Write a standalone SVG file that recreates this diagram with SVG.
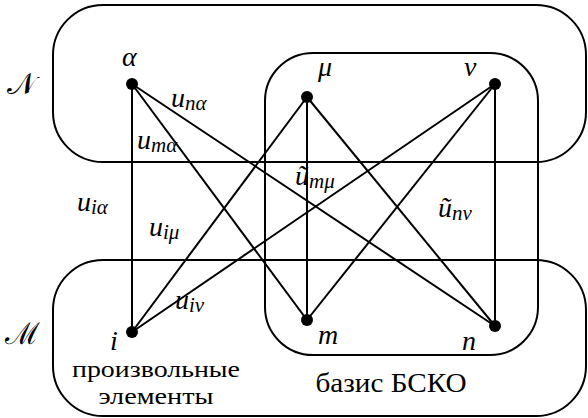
<svg xmlns="http://www.w3.org/2000/svg" width="588" height="418" viewBox="0 0 588 418">
<style>
.box{fill:none;stroke:#000;stroke-width:2}
.edge{stroke:#000;stroke-width:2}
.node{fill:#000}
text{font-family:'Liberation Serif',serif;font-style:italic;font-size:28px;fill:#000}
tspan.s{font-size:21px}
text.r{font-style:normal;font-size:27px}
text.r2{font-style:normal;font-size:23px}
text.sc{font-family:'DejaVu Serif',serif;font-style:normal;font-size:30px}
</style>
<rect width="588" height="418" fill="#fff"/>
<g id="set-N"><rect class="box" x="53" y="5" width="533" height="157" rx="50" ry="50"/><text class="sc" x="7" y="94">𝒩</text></g>
<g id="set-M"><rect class="box" x="53" y="260" width="533" height="156" rx="50" ry="50"/><text class="sc" x="5" y="344">ℳ</text></g>
<g id="basis"><rect class="box" x="265" y="53" width="273" height="302" rx="48" ry="48"/><text class="r" x="391" y="392" text-anchor="middle" textLength="151" lengthAdjust="spacingAndGlyphs">базис БСКО</text></g>
<g id="connectors">
<line class="edge" x1="132" y1="84" x2="132" y2="332"/>
<line class="edge" x1="132" y1="84" x2="307" y2="320"/>
<line class="edge" x1="132" y1="84" x2="495" y2="326"/>
<line class="edge" x1="307" y1="97" x2="132" y2="332"/>
<line class="edge" x1="307" y1="97" x2="307" y2="320"/>
<line class="edge" x1="307" y1="97" x2="495" y2="326"/>
<line class="edge" x1="495" y1="84" x2="132" y2="332"/>
<line class="edge" x1="495" y1="84" x2="307" y2="320"/>
<line class="edge" x1="495" y1="84" x2="495" y2="326"/>
<text x="171" y="107">u<tspan class="s" dy="3">nα</tspan></text>
<text x="137" y="149">u<tspan class="s" dy="3">mα</tspan></text>
<text x="77" y="211">u<tspan class="s" dy="3">iα</tspan></text>
<text x="149" y="236">u<tspan class="s" dy="3">iμ</tspan></text>
<text x="175" y="309">u<tspan class="s" dy="3">iν</tspan></text>
<text x="295" y="185">ũ<tspan class="s" dy="3">mμ</tspan></text>
<text x="438" y="217">ũ<tspan class="s" dy="3">nν</tspan></text>
</g>
<g id="node-alpha"><circle class="node" cx="132" cy="84" r="6"/><text x="122" y="66">α</text></g>
<g id="node-mu"><circle class="node" cx="307" cy="97" r="6"/><text x="318" y="76">μ</text></g>
<g id="node-nu"><circle class="node" cx="495" cy="84" r="6"/><text x="464" y="76">ν</text></g>
<g id="node-i"><circle class="node" cx="132" cy="332" r="6"/><text x="110" y="350">i</text><text class="r2" x="156" y="377" text-anchor="middle" textLength="168" lengthAdjust="spacingAndGlyphs">произвольные</text><text class="r2" x="156" y="404" text-anchor="middle" textLength="115" lengthAdjust="spacingAndGlyphs">элементы</text></g>
<g id="node-m"><circle class="node" cx="307" cy="320" r="6"/><text x="318" y="344">m</text></g>
<g id="node-n"><circle class="node" cx="495" cy="326" r="6"/><text x="462" y="350">n</text></g>
</svg>
